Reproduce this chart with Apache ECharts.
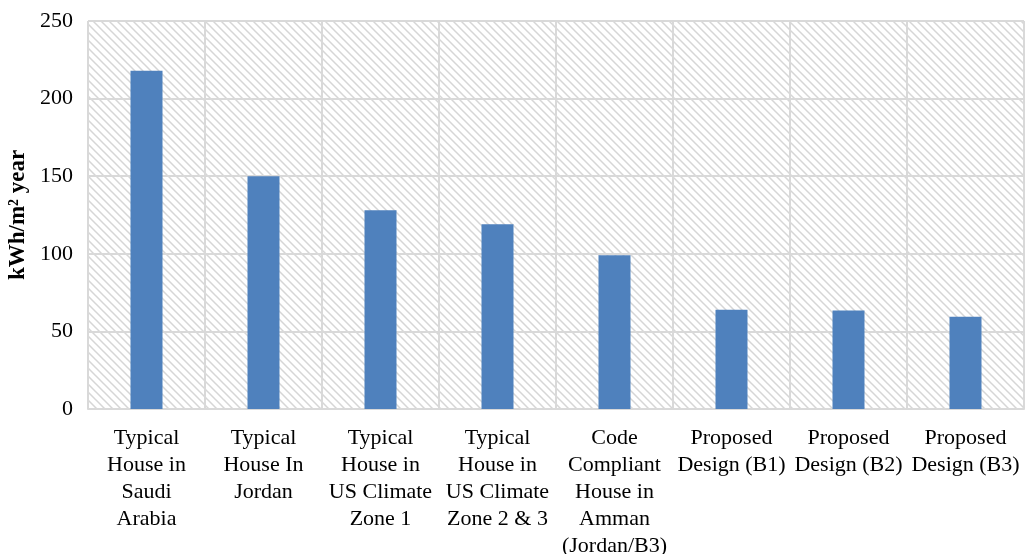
<!DOCTYPE html>
<html>
<head>
<meta charset="utf-8">
<script src="https://cdn.jsdelivr.net/npm/echarts@6/dist/echarts.min.js"></script>
<style>
  html, body { margin: 0; padding: 0; background: #ffffff; }
  #chart { width: 1025px; height: 554px; }
</style>
</head>
<body>
<div id="chart"></div>
<script>
// Annual energy use intensity by house type
const categories = [
  'Typical\nHouse in\nSaudi\nArabia',
  'Typical\nHouse In\nJordan',
  'Typical\nHouse in\nUS Climate\nZone 1',
  'Typical\nHouse in\nUS Climate\nZone 2 & 3',
  'Code\nCompliant\nHouse in\nAmman\n(Jordan/B3)',
  'Proposed\nDesign (B1)',
  'Proposed\nDesign (B2)',
  'Proposed\nDesign (B3)'
];
const energyUse = [218, 150, 128, 119, 99, 64, 63.5, 59.5];
const yTicks = { min: 0, max: 250, step: 50 };
const yAxisTitle = 'kWh/m\u00b2 year';

// Diagonal hatch tile for the plot background
function hatchTile() {
  const s = 8;
  const c = document.createElement('canvas');
  c.width = s; c.height = s;
  const ctx = c.getContext('2d');
  ctx.fillStyle = '#ffffff';
  ctx.fillRect(0, 0, s, s);
  ctx.strokeStyle = '#d6d6d6';
  ctx.lineWidth = 1.5;
  ctx.beginPath();
  ctx.moveTo(-2, -2); ctx.lineTo(s + 2, s + 2);
  ctx.moveTo(-2 - s, -2); ctx.lineTo(2, s + 2);
  ctx.moveTo(s - 2, -2); ctx.lineTo(2 * s + 2, s + 2);
  ctx.stroke();
  return c;
}

const serif = '"Liberation Serif", "Times New Roman", serif';
const gridColor = '#d9d9d9';

const chart = echarts.init(document.getElementById('chart'), null, { renderer: 'canvas' });
chart.setOption({
  animation: false,
  grid: {
    left: 88, right: 1, top: 21, bottom: 145,
    outerBoundsMode: 'none',
    containLabel: false,
    show: true,
    borderWidth: 0,
    backgroundColor: { image: hatchTile(), repeat: 'repeat' }
  },
  xAxis: {
    type: 'category',
    data: categories,
    axisLine: { show: true, lineStyle: { color: gridColor, width: 2 } },
    axisTick: { show: false },
    splitLine: { show: true, interval: 0, lineStyle: { color: gridColor, width: 2 } },
    axisLabel: {
      interval: 0,
      margin: 16,
      color: '#000000',
      fontFamily: serif,
      fontSize: 22,
      lineHeight: 27
    }
  },
  yAxis: {
    type: 'value',
    min: yTicks.min, max: yTicks.max, interval: yTicks.step,
    name: yAxisTitle,
    nameLocation: 'middle',
    nameRotate: 90,
    nameGap: 52,
    nameTextStyle: { color: '#000000', fontFamily: serif, fontSize: 23, fontWeight: 'bold' },
    axisLine: { show: false },
    axisTick: { show: false },
    splitLine: { show: true, lineStyle: { color: gridColor, width: 2 } },
    axisLabel: {
      margin: 15,
      color: '#000000',
      fontFamily: serif,
      fontSize: 22
    }
  },
  series: [{
    type: 'bar',
    data: energyUse,
    barWidth: 32,
    itemStyle: { color: '#4f81bd' }
  }]
});
</script>
</body>
</html>
